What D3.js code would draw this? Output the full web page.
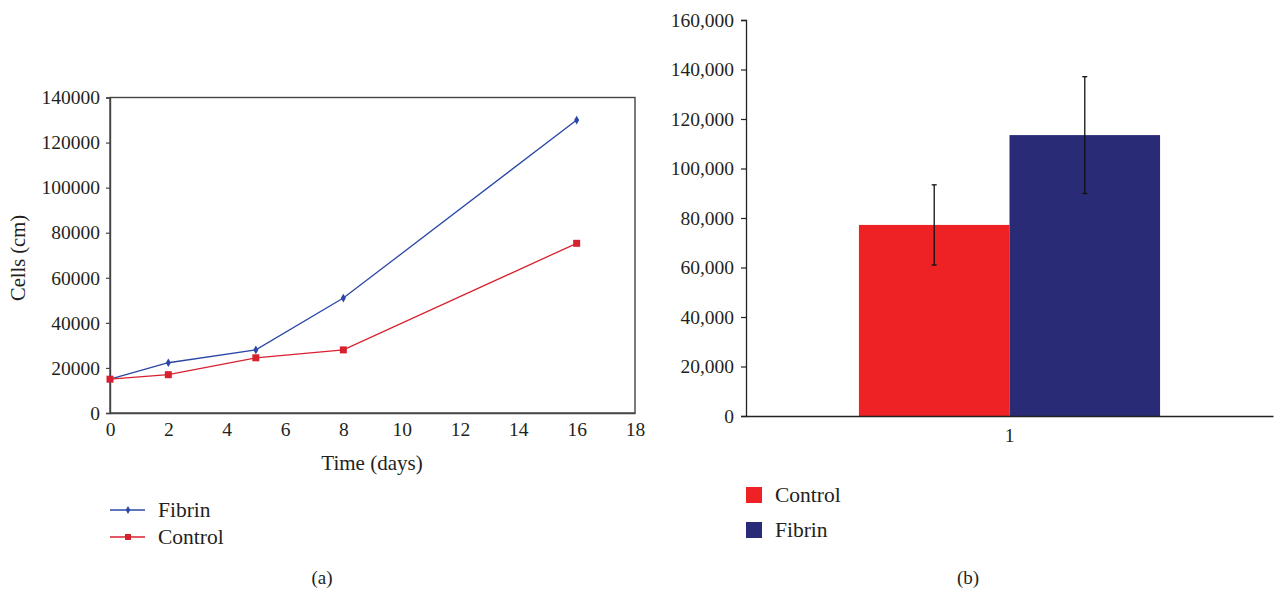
<!DOCTYPE html>
<html>
<head>
<meta charset="utf-8">
<script src="https://cdn.jsdelivr.net/npm/d3@7"></script>
<style>
  body { margin: 0; background: #fff; }
  svg { display: block; }
  text { font-family: "Liberation Serif", "DejaVu Serif", serif; fill: #231f20; }
</style>
</head>
<body>
<svg id="chart" width="1274" height="592"></svg>
<script>
// ---- Data: panel (a) ----
const days = [0, 2, 5, 8, 16];
const fibrinCells = [15000, 22300, 28000, 51000, 130000];
const controlCells = [15000, 17000, 24500, 28000, 75300];
const aXTicks = [0, 2, 4, 6, 8, 10, 12, 14, 16, 18];
const aYTicks = [0, 20000, 40000, 60000, 80000, 100000, 120000, 140000];

// ---- Data: panel (b) ----
const bCategories = ["1"];
const bSeries = ["Control", "Fibrin"];
const bMeans = [77200, 113500];
const bErrors = [16200, 23600];
const bYTicks = [0, 20000, 40000, 60000, 80000, 100000, 120000, 140000, 160000];

const lineColors = { Fibrin: "#2b47a6", Control: "#d7212e" };
const barColors = { Control: "#ee2224", Fibrin: "#2a2b76" };

const svg = d3.select("#chart");

// ================= Panel (a) =================
const ax = d3.scaleLinear().domain([0, 18]).range([110, 635]);
const ay = d3.scaleLinear().domain([0, 140000]).range([413, 97.5]);
const ga = svg.append("g");

// frame
ga.append("rect")
  .attr("x", ax(0)).attr("y", ay(140000))
  .attr("width", ax(18) - ax(0)).attr("height", ay(0) - ay(140000))
  .attr("fill", "none").attr("stroke", "#444").attr("stroke-width", 1.4);

const yAxisA = ga.append("g").attr("transform", `translate(${ax(0)},0)`)
  .call(d3.axisLeft(ay).tickValues(aYTicks).tickSize(4).tickPadding(6).tickFormat(d3.format("d")));
yAxisA.select(".domain").attr("stroke", "#444").attr("stroke-width", 1.4);
yAxisA.selectAll(".tick line").attr("stroke", "#444").attr("stroke-width", 1.2);
yAxisA.selectAll("text").attr("font-size", 19.5).attr("font-family", "Liberation Serif").attr("fill", "#231f20");

const xAxisA = ga.append("g").attr("transform", `translate(0,${ay(0)})`)
  .call(d3.axisBottom(ax).tickValues(aXTicks).tickSize(0).tickPadding(9));
xAxisA.select(".domain").attr("stroke", "#444").attr("stroke-width", 1.4);
xAxisA.selectAll("text").attr("font-size", 19.5).attr("font-family", "Liberation Serif").attr("fill", "#231f20");

ga.append("text").attr("x", 372).attr("y", 470).attr("text-anchor", "middle")
  .attr("font-size", 21).text("Time (days)");
ga.append("text").attr("transform", "translate(25,258) rotate(-90)")
  .attr("text-anchor", "middle").attr("font-size", 20.5).text("Cells (cm)");

const lineGen = d3.line().x((d, i) => ax(days[i])).y(d => ay(d));
const seriesA = [
  { name: "Fibrin", values: fibrinCells },
  { name: "Control", values: controlCells }
];
seriesA.forEach(s => {
  ga.append("path").datum(s.values)
    .attr("d", lineGen).attr("fill", "none")
    .attr("stroke", lineColors[s.name]).attr("stroke-width", 1.3);
});
// markers
ga.selectAll(".mk-f").data(fibrinCells).enter().append("path")
  .attr("transform", (d, i) => `translate(${ax(days[i])},${ay(d)})`)
  .attr("d", d3.symbol().type(d3.symbolDiamond).size(22))
  .attr("fill", lineColors.Fibrin);
ga.selectAll(".mk-c").data(controlCells).enter().append("rect")
  .attr("x", (d, i) => ax(days[i]) - 3.5).attr("y", d => ay(d) - 3.5)
  .attr("width", 7).attr("height", 7)
  .attr("fill", lineColors.Control);

// legend (a)
const legA = [{ name: "Fibrin", y: 510 }, { name: "Control", y: 537 }];
legA.forEach(l => {
  ga.append("line").attr("x1", 110).attr("x2", 145).attr("y1", l.y).attr("y2", l.y)
    .attr("stroke", lineColors[l.name]).attr("stroke-width", 1.3);
  if (l.name === "Fibrin") {
    ga.append("path").attr("transform", `translate(128,${l.y})`)
      .attr("d", d3.symbol().type(d3.symbolDiamond).size(18)).attr("fill", lineColors.Fibrin);
  } else {
    ga.append("rect").attr("x", 125).attr("y", l.y - 3).attr("width", 6).attr("height", 6)
      .attr("fill", lineColors.Control);
  }
  ga.append("text").attr("x", 158).attr("y", l.y + 7).attr("font-size", 21.5).text(l.name);
});
ga.append("text").attr("x", 322).attr("y", 584).attr("text-anchor", "middle")
  .attr("font-size", 19).text("(a)");

// ================= Panel (b) =================
const bx = d3.scaleBand().domain(bCategories).range([746, 1273]).paddingInner(0).paddingOuter(0.375);
const bxInner = d3.scaleBand().domain(bSeries).range([0, bx.bandwidth()]);
const by = d3.scaleLinear().domain([0, 160000]).range([416, 20]);
const gb = svg.append("g");

const yAxisB = gb.append("g").attr("transform", `translate(746,0)`)
  .call(d3.axisLeft(by).tickValues(bYTicks).tickSize(5).tickPadding(7).tickFormat(d3.format(",")));
yAxisB.select(".domain").attr("stroke", "#222").attr("stroke-width", 1.3);
yAxisB.selectAll(".tick line").attr("stroke", "#222").attr("stroke-width", 1.2);
yAxisB.selectAll("text").attr("font-size", 19.5).attr("font-family", "Liberation Serif").attr("fill", "#231f20");

bCategories.forEach(cat => {
  const g = gb.append("g").attr("transform", `translate(${bx(cat)},0)`);
  g.selectAll("rect").data(bSeries).enter().append("rect")
    .attr("x", s => bxInner(s)).attr("width", bxInner.bandwidth())
    .attr("y", (s, i) => by(bMeans[i])).attr("height", (s, i) => by(0) - by(bMeans[i]))
    .attr("fill", s => barColors[s]);
  bSeries.forEach((s, i) => {
    const cx = bxInner(s) + bxInner.bandwidth() / 2;
    const top = by(bMeans[i] + bErrors[i]), bot = by(bMeans[i] - bErrors[i]);
    g.append("line").attr("x1", cx).attr("x2", cx).attr("y1", top).attr("y2", bot)
      .attr("stroke", "#111").attr("stroke-width", 1.3);
    [top, bot].forEach(yy => g.append("line").attr("x1", cx - 2.5).attr("x2", cx + 2.5)
      .attr("y1", yy).attr("y2", yy).attr("stroke", "#111").attr("stroke-width", 1.3));
  });
});

const xAxisB = gb.append("g").attr("transform", `translate(0,${by(0)})`)
  .call(d3.axisBottom(bx).tickSize(0).tickPadding(12));
xAxisB.select(".domain").attr("stroke", "#222").attr("stroke-width", 1.5);
xAxisB.selectAll("text").attr("font-size", 19.5).attr("font-family", "Liberation Serif").attr("fill", "#231f20");

// legend (b)
const legB = [{ name: "Control", y: 495 }, { name: "Fibrin", y: 530 }];
legB.forEach(l => {
  gb.append("rect").attr("x", 746).attr("y", l.y - 8).attr("width", 16).attr("height", 16)
    .attr("fill", barColors[l.name]);
  gb.append("text").attr("x", 775).attr("y", l.y + 7).attr("font-size", 21.5).text(l.name);
});
gb.append("text").attr("x", 968).attr("y", 584).attr("text-anchor", "middle")
  .attr("font-size", 19).text("(b)");
</script>
</body>
</html>
